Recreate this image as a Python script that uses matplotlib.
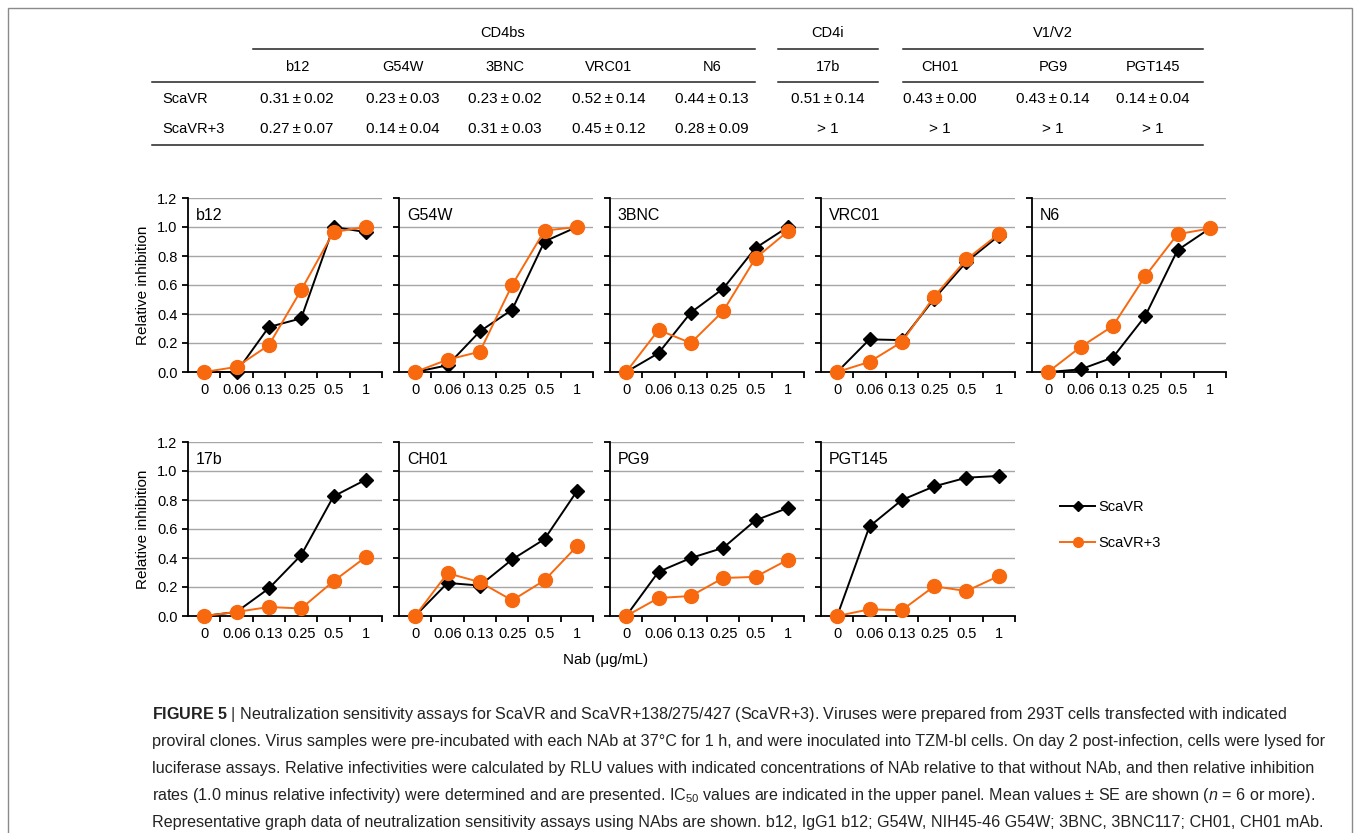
import matplotlib
matplotlib.use("Agg")
import matplotlib.pyplot as plt
from matplotlib.lines import Line2D
from matplotlib.patches import Rectangle

plt.rcParams['font.family'] = ['Liberation Sans', 'DejaVu Sans']
plt.rcParams['mathtext.fontset'] = 'custom'
plt.rcParams['mathtext.rm'] = 'Liberation Sans'
plt.rcParams['mathtext.it'] = 'Liberation Sans:italic'
plt.rcParams['mathtext.bf'] = 'Liberation Sans:bold'

W, H = 1357, 833

# ---- data ----
conc_labels = ["0", "0.06", "0.13", "0.25", "0.5", "1"]
panels = ["b12", "G54W", "3BNC", "VRC01", "N6", "17b", "CH01", "PG9", "PGT145"]

scavr = {
    "b12":    [0.00, 0.00, 0.31, 0.37, 1.00, 0.965],
    "G54W":   [0.00, 0.046, 0.28, 0.43, 0.90, 1.00],
    "3BNC":   [0.00, 0.13, 0.41, 0.575, 0.855, 1.00],
    "VRC01":  [0.00, 0.225, 0.22, 0.505, 0.76, 0.94],
    "N6":     [0.00, 0.018, 0.10, 0.385, 0.84, 0.99],
    "17b":    [0.00, 0.028, 0.19, 0.42, 0.825, 0.94],
    "CH01":   [0.00, 0.228, 0.21, 0.39, 0.53, 0.86],
    "PG9":    [0.00, 0.305, 0.40, 0.47, 0.66, 0.745],
    "PGT145": [0.00, 0.618, 0.80, 0.894, 0.954, 0.966],
}
scavr3 = {
    "b12":    [0.00, 0.035, 0.185, 0.565, 0.965, 1.00],
    "G54W":   [0.00, 0.085, 0.14, 0.60, 0.975, 1.00],
    "3BNC":   [0.00, 0.29, 0.20, 0.42, 0.785, 0.97],
    "VRC01":  [0.00, 0.07, 0.207, 0.52, 0.777, 0.952],
    "N6":     [0.00, 0.172, 0.317, 0.66, 0.95, 0.99],
    "17b":    [0.00, 0.028, 0.062, 0.052, 0.24, 0.407],
    "CH01":   [0.00, 0.295, 0.234, 0.108, 0.246, 0.48],
    "PG9":    [0.00, 0.124, 0.138, 0.262, 0.27, 0.388],
    "PGT145": [0.00, 0.046, 0.04, 0.205, 0.172, 0.276],
}

# IC50 table
table_groups = ["CD4bs", "CD4i", "V1/V2"]
table_cols = ["b12", "G54W", "3BNC", "VRC01", "N6", "17b", "CH01", "PG9", "PGT145"]
table_rows = ["ScaVR", "ScaVR+3"]
ic50_scavr = ["0.31\u00b10.02", "0.23\u00b10.03", "0.23\u00b10.02", "0.52\u00b10.14", "0.44\u00b10.13",
              "0.51\u00b10.14", "0.43\u00b10.00", "0.43\u00b10.14", "0.14\u00b10.04"]
ic50_scavr3 = ["0.27\u00b10.07", "0.14\u00b10.04", "0.31\u00b10.03", "0.45\u00b10.12", "0.28\u00b10.09",
               "> 1", "> 1", "> 1", "> 1"]

caption_lines = [
    r"$\bf{FIGURE\ 5}$ | Neutralization sensitivity assays for ScaVR and ScaVR+138/275/427 (ScaVR+3). Viruses were prepared from 293T cells transfected with indicated",
    "proviral clones. Virus samples were pre-incubated with each NAb at 37\u00b0C for 1 h, and were inoculated into TZM-bl cells. On day 2 post-infection, cells were lysed for",
    "luciferase assays. Relative infectivities were calculated by RLU values with indicated concentrations of NAb relative to that without NAb, and then relative inhibition",
    r"rates (1.0 minus relative infectivity) were determined and are presented. IC$_{50}$ values are indicated in the upper panel. Mean values $\pm$ SE are shown ($\it{n}$ = 6 or more).",
    "Representative graph data of neutralization sensitivity assays using NAbs are shown. b12, IgG1 b12; G54W, NIH45-46 G54W; 3BNC, 3BNC117; CH01, CH01 mAb.",
]

black = "#000000"
orange = "#F8690F"

fig = plt.figure(figsize=(W / 100, H / 100), dpi=100)


def fx(x):
    return x / W


def fy(y):
    return 1 - y / H


# outer frame
fig.patches.append(Rectangle((fx(8), fy(860)), fx(1344), 860 / H - 8 / H, transform=fig.transFigure,
                             fill=False, edgecolor="#8a8a8a", lw=1))

# ---- table ----
col_x = [297, 403, 505, 609, 712, 828, 940, 1053, 1153]
group_x = [503, 828, 1053]
group_span = [(253, 755), (778, 878), (903, 1203)]
tfs = 10.5
for g, gx in zip(table_groups, group_x):
    fig.text(fx(gx), fy(33), g, ha="center", va="center", fontsize=tfs)
for a, b in group_span:
    fig.add_artist(Line2D([fx(a), fx(b)], [fy(49), fy(49)], color="#222222", lw=1.1))
for a, b in [(152, 755), (778, 878), (903, 1203)]:
    fig.add_artist(Line2D([fx(a), fx(b)], [fy(82), fy(82)], color="#222222", lw=1.1))
fig.add_artist(Line2D([fx(152), fx(1203)], [fy(145), fy(145)], color="#222222", lw=1.1))
for c, cx in zip(table_cols, col_x):
    fig.text(fx(cx), fy(67), c, ha="center", va="center", fontsize=tfs)
for r, ry, vals in zip(table_rows, [99, 129], [ic50_scavr, ic50_scavr3]):
    fig.text(fx(162), fy(ry), r, ha="left", va="center", fontsize=tfs)
    for v, cx in zip(vals, col_x):
        v = v.replace("\u00b1", "\u2009\u00b1\u2009")
        fig.text(fx(cx), fy(ry), v, ha="center", va="center", fontsize=11)

# ---- panels ----
ax_w, ax_h = 194, 174
lefts = [188 + 211 * i for i in range(5)]
tops = [198, 442]
xs = list(range(len(conc_labels)))

for k, name in enumerate(panels):
    row, col = divmod(k, 5)
    l, t = lefts[col], tops[row]
    ax = fig.add_axes([fx(l), fy(t + ax_h), fx(ax_w), ax_h / H])
    for yy in [0.2, 0.4, 0.6, 0.8, 1.0, 1.2]:
        ax.axhline(yy, color="#a6a6a6", lw=1, zorder=0)
    ax.plot(xs, scavr[name], color=black, lw=1.4, marker="D", ms=7, zorder=3, clip_on=False)
    ax.plot(xs, scavr3[name], color=orange, lw=1.4, marker="o", ms=10, zorder=4, clip_on=False)
    ax.set_xlim(-0.5, 5.5)
    ax.set_ylim(0, 1.2)
    for s in ["top", "right"]:
        ax.spines[s].set_visible(False)
    for s in ["left", "bottom"]:
        ax.spines[s].set_linewidth(1.3)
    ax.set_xticks(xs)
    ax.set_xticklabels(conc_labels, fontsize=10.5)
    ax.tick_params(axis="x", length=0, pad=8)
    ax.set_xticks([0.5, 1.5, 2.5, 3.5, 4.5, 5.5], minor=True)
    ax.tick_params(axis="x", which="minor", length=4, width=1.3, direction="out")
    ax.set_yticks([0, 0.2, 0.4, 0.6, 0.8, 1.0, 1.2])
    ax.tick_params(axis="y", length=4, width=1.3, direction="out")
    if col == 0:
        ax.set_yticklabels(["0.0", "0.2", "0.4", "0.6", "0.8", "1.0", "1.2"], fontsize=10.5)
        ax.set_ylabel("Relative inhibition", fontsize=11, labelpad=5)
    else:
        ax.set_yticklabels([])
    ax.text(0.04, 0.9, name, transform=ax.transAxes, fontsize=11.5, ha="left", va="center")

# legend
handles = [Line2D([], [], color=black, lw=1.4, marker="D", ms=5),
           Line2D([], [], color=orange, lw=1.4, marker="o", ms=7)]
fig.legend(handles, ["ScaVR", "ScaVR+3"], loc="center left", bbox_to_anchor=(fx(1047), fy(525)),
           frameon=False, fontsize=10.5, handlelength=2.4, handletextpad=0.2, labelspacing=1.5)

fig.text(fx(606), fy(660), "Nab (\u03bcg/mL)", ha="center", va="center", fontsize=11)

# caption
for i, line in enumerate(caption_lines):
    fig.text(fx(152), fy(714 + 27.2 * i), line, ha="left", va="center", fontsize=11.6, color="#222222")

fig.savefig("out.png", dpi=100)
